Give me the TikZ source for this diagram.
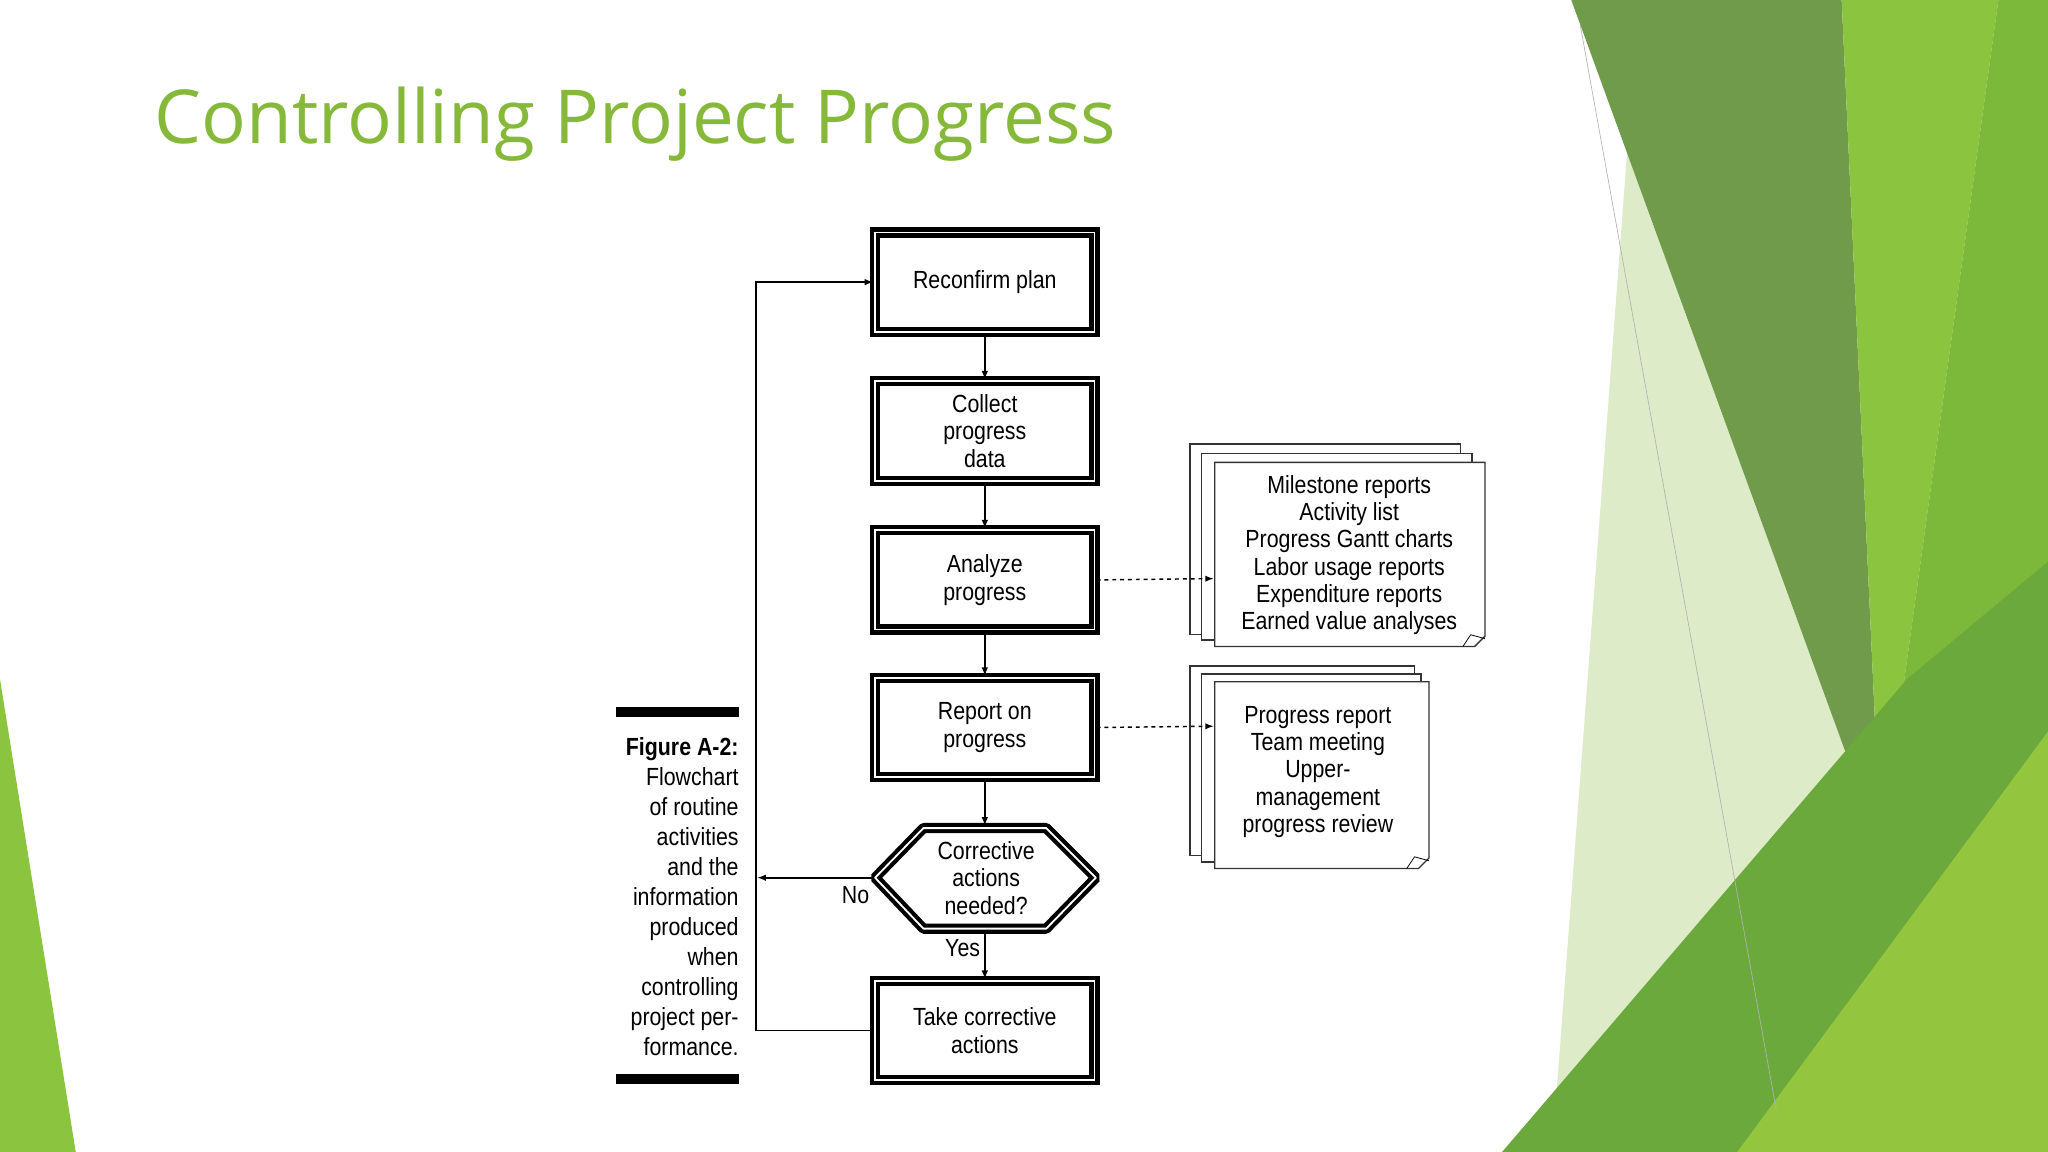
\documentclass[tikz,border=0pt]{standalone}
\usepackage{fontspec}
\setmainfont{Liberation Sans}
\newfontfamily\cond[FakeStretch=0.86]{Liberation Sans}
\newfontfamily\titlefont{Open Sans}
\definecolor{gtitle}{HTML}{86B93A}
\definecolor{gdark}{HTML}{6F9B4A}
\definecolor{gbright}{HTML}{8BC43F}
\definecolor{gright}{HTML}{7CB83A}
\definecolor{gpale}{HTML}{DDEBC8}
\definecolor{gbottom}{HTML}{6BA93C}
\definecolor{glight}{HTML}{93C53F}
\begin{document}
\begin{tikzpicture}[x=1pt,y=-1pt,
  box/.style={draw,line width=3.2pt,double,double distance=1.4pt,minimum width=168pt,minimum height=76pt,align=center,font=\cond\fontsize{19}{21}\selectfont,fill=white},
  arr/.style={-latex,line width=1.2pt},
  dsh/.style={-latex,dashed,line width=1.1pt},
  sheet/.style={draw=black!80,fill=white,line width=1pt},
  doctext/.style={align=center,font=\cond\fontsize{19}{20.8}\selectfont},
  captext/.style={align=right,font=\cond\fontsize{19}{23}\selectfont,anchor=north east}]
\useasboundingbox (0,0) rectangle (1568,882);
\fill[white] (0,0) rectangle (1568,882);
% decoration
\fill[gpale] (1250,60) -- (1440,650) -- (1190,860) -- cycle;
\fill[gdark] (1203,0) -- (1410,0) -- (1440,650) -- cycle;
\fill[gbright] (1410,0) -- (1530,0) -- (1440,650) -- cycle;
\fill[gright] (1530,0) -- (1568,0) -- (1568,600) -- (1440,650) -- cycle;
\fill[gbottom] (1150,882) -- (1460,520) -- (1568,430) -- (1568,882) -- cycle;
\fill[glight] (1330,882) -- (1568,560) -- (1568,882) -- cycle;
\fill[gbright] (0,520) -- (58,882) -- (0,882) -- cycle;
\draw[black!30,line width=0.5pt] (1210,20) -- (1360,850);
% title
\node[anchor=base west,inner sep=0,text=gtitle,font=\titlefont\fontsize{57}{60}\selectfont] (title) at (118,110) {Controlling Project Progress};
% boxes
\node[box] (b1) at (754,216) {Reconfirm plan};
\node[box] (b2) at (754,330) {Collect\\progress\\data};
\node[box] (b3) at (754,444) {Analyze\\progress};
\node[box] (b4) at (754,557) {Report on\\progress};
\coordinate (b5w) at (668,672);
\draw[line width=3.2pt,double,double distance=1.4pt,fill=white,line join=bevel] (670,672) -- (707,634) -- (801,634) -- (839,672) -- (801,711) -- (707,711) -- cycle;
\node[align=center,font=\cond\fontsize{19}{21}\selectfont] (b5t) at (755,672) {Corrective\\actions\\needed?};
\coordinate (b5n) at (754,632); \coordinate (b5s) at (754,713);
\node[box] (b6) at (754,789) {Take corrective\\actions};
\draw[arr] (b1) -- (b2);
\draw[arr] (b2) -- (b3);
\draw[arr] (b3) -- (b4);
\draw[arr] (b4.south) -- (b5n);
\draw[arr] (b5s) -- (b6.north);
\coordinate (loopN) at (579,216); \coordinate (loopS) at (579,789); \coordinate (noEnd) at (580,672);
\draw[arr] (b6.west) -- (loopS) -- (loopN) -- (b1.west);
\draw[arr] (b5w) -- (noEnd);
\node[font=\cond\fontsize{19}{21}\selectfont] (no) at (655,685) {No};
\node[font=\cond\fontsize{19}{21}\selectfont] (yes) at (737,726) {Yes};
% doc stacks
\draw[sheet] (911,340) rectangle (1118,486);
\draw[sheet] (920,347) rectangle (1127,490);
\draw[sheet] (930,354) -- (1137,354) -- (1137,487) -- (1129,495) -- (930,495) -- cycle;
\draw[line width=0.6pt] (1120,495) -- (1126,486) -- (1137,489);
\node[doctext] (d1) at (1033,425) {Milestone reports\\Activity list\\Progress Gantt charts\\Labor usage reports\\Expenditure reports\\Earned value analyses};
\draw[sheet] (911,510) rectangle (1083,655);
\draw[sheet] (920,516) rectangle (1088,660);
\draw[sheet] (930,522) -- (1094,522) -- (1094,657) -- (1086,665) -- (930,665) -- cycle;
\draw[line width=0.6pt] (1077,665) -- (1083,656) -- (1094,659);
\node[doctext] (d2) at (1009,591) {Progress report\\Team meeting\\Upper-\\management\\progress review};
\coordinate (d1in) at (929,443); \coordinate (d2in) at (929,556);
\draw[dsh] (b3.east) -- (d1in);
\draw[dsh] (b4.east) -- (d2in);
% caption
\fill (472,541) rectangle (566,549);
\fill (472,822) rectangle (566,830);
\node[captext] (capnode) at (569,561) {\textbf{Figure A-2:}\\Flowchart\\of routine\\activities\\and the\\information\\produced\\when\\controlling\\project per-\\formance.};
\end{tikzpicture}
\end{document}
